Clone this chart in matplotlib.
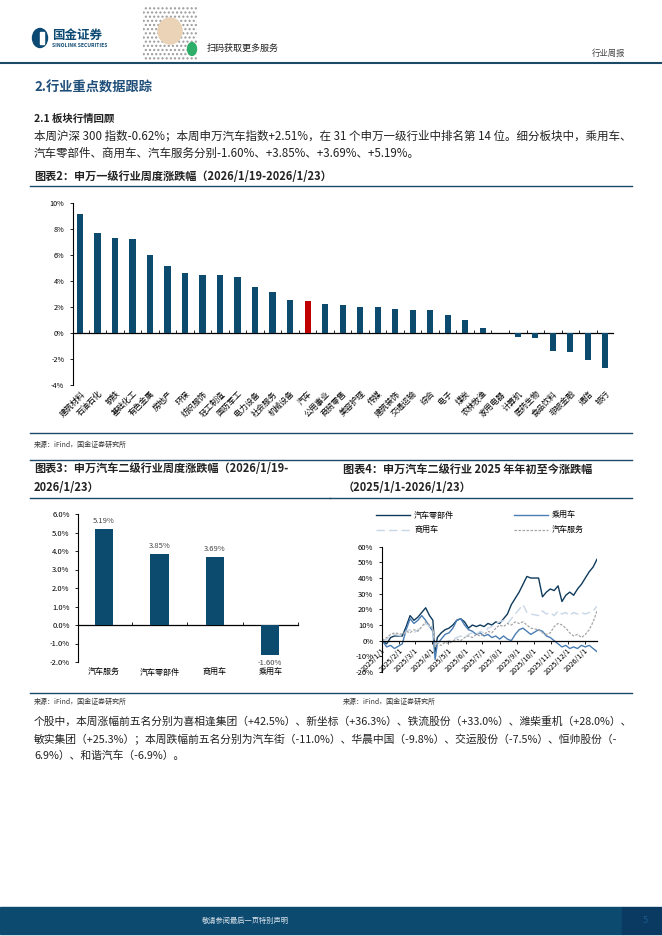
import numpy as np
import pandas as pd
import matplotlib
matplotlib.use("Agg")
import matplotlib.pyplot as plt
from matplotlib.lines import Line2D
from matplotlib.patches import Rectangle, Ellipse, Circle
from matplotlib.ticker import FuncFormatter

plt.rcParams['font.family'] = ['Noto Sans CJK SC', 'DejaVu Sans']
plt.rcParams['axes.unicode_minus'] = False

# chart 2: SW level-1 industries, weekly change (%)
sw1_names = ['建筑材料', '石油石化', '钢铁', '基础化工', '有色金属', '房地产', '环保', '纺织服饰',
             '轻工制造', '国防军工', '电力设备', '社会服务', '机械设备', '汽车', '公用事业', '商贸零售',
             '美容护理', '传媒', '建筑装饰', '交通运输', '综合', '电子', '煤炭', '农林牧渔',
             '家用电器', '计算机', '医药生物', '食品饮料', '非银金融', '通信', '银行']
sw1_chg = [9.2, 7.7, 7.3, 7.25, 6.0, 5.2, 4.6, 4.5, 4.5, 4.3, 3.55, 3.2, 2.55, 2.51, 2.25, 2.15,
           2.0, 2.0, 1.87, 1.77, 1.77, 1.38, 1.03, 0.41, 0.02, -0.28, -0.38, -1.38, -1.46, -2.1, -2.69]

# chart 3: SW auto level-2, weekly change (%)
sub_names = ['汽车服务', '汽车零部件', '商用车', '乘用车']
sub_chg = [5.19, 3.85, 3.69, -1.60]

# chart 4: SW auto level-2, cumulative change since 2025/1/1 (%)
dates = ['2025-01-02', '2025-01-10', '2025-01-17', '2025-01-24', '2025-02-07', '2025-02-14',
         '2025-02-21', '2025-02-28', '2025-03-07', '2025-03-14', '2025-03-21', '2025-03-28',
         '2025-04-03', '2025-04-07', '2025-04-11', '2025-04-18', '2025-04-25', '2025-05-02',
         '2025-05-09', '2025-05-16', '2025-05-23', '2025-05-30', '2025-06-06', '2025-06-13',
         '2025-06-20', '2025-06-27', '2025-07-04', '2025-07-11', '2025-07-18', '2025-07-25',
         '2025-08-01', '2025-08-08', '2025-08-15', '2025-08-22', '2025-08-29', '2025-09-05',
         '2025-09-12', '2025-09-19', '2025-09-26', '2025-10-10', '2025-10-17', '2025-10-24',
         '2025-10-31', '2025-11-07', '2025-11-14', '2025-11-21', '2025-11-28', '2025-12-05',
         '2025-12-12', '2025-12-19', '2025-12-26', '2026-01-02', '2026-01-09', '2026-01-16',
         '2026-01-23']
parts = [0, -2, 2, 3, 3, 9, 16, 13, 15, 18, 21, 16, 13, -7, 2, 5, 7, 8, 10, 13, 14, 12, 8, 10,
         9, 10, 9, 11, 10, 12, 11, 14, 17, 23, 27, 31, 36, 41, 40, 40, 28, 31, 33, 32, 35, 25,
         29, 31, 29, 33, 36, 40, 44, 47, 52]
passenger = [0, -4, -3, -5, -2, 7, 14, 11, 13, 16, 13, 9, 6, -12, -2, 1, 4, 5, 8, 13, 14, 10,
             7, 6, 4, 5, 3, 4, 2, 3, 1, 3, 1, 0, 4, 7, 8, 6, 4, 7, 6, 3, 2, 0, -2, -4, -3, -5,
             -4, -5, -3, -4, -3, -5, -7]
commercial = [0, 1, 3, 4, 3, 6, 7, 5, 7, 8, 11, 9, 7, -3, -1, -2, -1, 0, 1, 2, 3, 2, 4, 5, 4,
              6, 5, 8, 9, 11, 12, 13, 11, 14, 17, 20, 23, 18, 17, 16, 19, 17, 18, 16, 19, 17,
              18, 16, 18, 17, 18, 17, 18, 19, 22]
service = [0, 2, 4, 5, 4, 6, 5, 7, 6, 9, 12, 10, 8, -4, -2, -3, -1, -2, 0, 1, 0, 2, 3, 2, 4, 3,
           4, 6, 5, 8, 10, 9, 11, 10, 12, 11, 12, 10, 8, 7, 5, 4, 5, 9, 11, 10, 8, 5, 3, 4, 2,
           4, 7, 12, 19]

NAVY = '#0c4a6e'
RED = '#c00000'
DARK = '#1a4a68'
TXT = '#222222'

W, H = 662, 936
fig = plt.figure(figsize=(W / 100, H / 100), dpi=100)


def txt(x, y, s, size, **kw):
    kw.setdefault('color', TXT)
    kw.setdefault('va', 'center')
    fig.text(x / W, 1 - y / H, s, fontsize=size, **kw)


def hline(x0, x1, y, color=DARK, lw=1.0):
    fig.add_artist(Line2D([x0 / W, x1 / W], [1 - y / H] * 2, color=color, lw=lw,
                          transform=fig.transFigure))


def axbox(x0, y0, x1, y1):
    return fig.add_axes([x0 / W, 1 - y1 / H, (x1 - x0) / W, (y1 - y0) / H])


# header
tf = fig.transFigure
fig.add_artist(Ellipse((40 / W, 1 - 38 / H), 15 / W, 19 / H, color='#0d4a73', transform=tf))
fig.add_artist(Rectangle((40 / W, 1 - 44 / H), 4 / W, 12 / H, color='white', transform=tf))
txt(52, 35, '国金证券', 9, weight='bold', color='#0d4a73')
txt(52, 45.5, 'SINOLINK SECURITIES', 3.6, weight='bold', color='#0d4a73')
fig.add_artist(Rectangle((143 / W, 1 - 60 / H), 54 / W, 54 / H, fill=False, hatch='....',
                         edgecolor='#9a9a9a', lw=0, transform=tf))
fig.add_artist(Ellipse((170 / W, 1 - 31 / H), 24 / W, 26 / H, color='#ead3b6', transform=tf))
fig.add_artist(Circle((192 / W, 1 - 49 / H), 4.5 / W, color='#2eae68', transform=tf))
txt(207, 48, '扫码获取更多服务', 6.5)
txt(625, 53, '行业周报', 6, ha='right', color='#444444')
hline(0, W, 62.5, lw=1.5)

# section text
BODY1 = 8.3
BODY2 = 7.75
TITLE = 8.0
txt(34, 88, '2.行业重点数据跟踪', 9.5, weight='bold', color='#1f4e79')
txt(34, 119, '2.1 板块行情回顾', 7.5, weight='bold')
txt(34, 136, '本周沪深 300 指数-0.62%；本周申万汽车指数+2.51%，在 31 个申万一级行业中排名第 14 位。细分板块中，乘用车、', BODY1)
txt(34, 153, '汽车零部件、商用车、汽车服务分别-1.60%、+3.85%、+3.69%、+5.19%。', BODY1)
txt(34, 176, '图表2：申万一级行业周度涨跌幅（2026/1/19-2026/1/23）', TITLE, weight='bold', style='italic')
hline(30, 632, 185.5)

# chart 2
ax1 = axbox(72.7, 203.3, 613, 385)
x1 = np.arange(len(sw1_names))
ax1.bar(x1, sw1_chg, width=0.36, color=[RED if n == '汽车' else NAVY for n in sw1_names])
ax1.set_xlim(-0.42, len(sw1_names) - 0.56)
ax1.set_ylim(-4, 10)
ax1.set_yticks(np.arange(-4, 11, 2))
ax1.yaxis.set_major_formatter(FuncFormatter(lambda v, p: f'{v:.0f}%'))
ax1.set_xticks(x1)
ax1.set_xticklabels(sw1_names, rotation=45, ha='right', rotation_mode='anchor')
ax1.tick_params(axis='x', length=0, labelsize=5.8, pad=3)
ax1.tick_params(axis='y', length=2.5, labelsize=5.2, width=0.6)
for s in ['top', 'right', 'bottom']:
    ax1.spines[s].set_visible(False)
ax1.spines['left'].set_linewidth(0.8)
sec1 = ax1.secondary_xaxis(4 / 14)
sec1.set_xticks(x1[:-1] + 0.5)
sec1.tick_params(direction='in', length=2.5, width=0.6, labelbottom=False)
sec1.spines['bottom'].set_linewidth(0.9)

hline(30, 632, 432.5)
txt(34, 445, '来源：iFind，国金证券研究所', 5, color='#333333')
hline(30, 632, 459.5)

# chart 3
txt(34, 469, '图表3：申万汽车二级行业周度涨跌幅（2026/1/19-', TITLE, weight='bold', style='italic')
txt(34, 487, '2026/1/23）', TITLE, weight='bold', style='italic')
hline(30, 330, 497.5)
ax3 = axbox(78, 514, 298, 662)
x3 = np.arange(len(sub_names))
bars3 = ax3.bar(x3, sub_chg, width=0.33, color=NAVY)
ax3.bar_label(bars3, labels=[f'{v:.2f}%' for v in sub_chg], padding=3, fontsize=5.5,
              color='#444444')
ax3.set_xlim(-0.47, 3.5)
ax3.set_ylim(-2, 6)
ax3.set_yticks(np.arange(-2, 7, 1))
ax3.yaxis.set_major_formatter(FuncFormatter(lambda v, p: f'{v:.1f}%'))
ax3.set_xticks(x3)
ax3.set_xticklabels(sub_names)
ax3.tick_params(axis='x', length=0, labelsize=5.8, pad=4)
ax3.tick_params(axis='y', length=2.5, labelsize=5.5, width=0.6)
for s in ['top', 'right', 'bottom']:
    ax3.spines[s].set_visible(False)
ax3.spines['left'].set_linewidth(0.8)
sec3 = ax3.secondary_xaxis(2 / 8)
sec3.set_xticks(x3 + 0.5)
sec3.tick_params(direction='in', length=2.5, width=0.6, labelbottom=False)
sec3.spines['bottom'].set_linewidth(0.9)

# chart 4
txt(343, 469, '图表4：申万汽车二级行业 2025 年年初至今涨跌幅', TITLE, weight='bold', style='italic')
txt(343, 487, '（2025/1/1-2026/1/23）', TITLE, weight='bold', style='italic')
hline(330, 632, 497.5)
ax4 = axbox(381.7, 546.7, 597, 672)
ax4.spines['top'].set_visible(False)
ax4.spines['right'].set_visible(False)
ax4.spines['bottom'].set_position(('data', 0))
ax4.spines['left'].set_linewidth(0.8)
ax4.spines['bottom'].set_linewidth(0.9)
d4 = pd.to_datetime(dates)
l_parts, = ax4.plot(d4, parts, color='#0e3a5c', lw=1.0)
l_pass, = ax4.plot(d4, passenger, color='#4a7db3', lw=1.0)
l_comm, = ax4.plot(d4, commercial, color='#c9d7e6', lw=1.0, dashes=(6, 3))
l_serv, = ax4.plot(d4, service, color='#a5a5a5', lw=0.9, dashes=(2, 1.2))
ax4.set_xlim(pd.Timestamp('2025-01-01'), pd.Timestamp('2026-01-23'))
ax4.set_ylim(-20, 60)
ax4.set_yticks(np.arange(-20, 61, 10))
ax4.yaxis.set_major_formatter(FuncFormatter(lambda v, p: f'{v:.0f}%'))
months = pd.date_range('2025-01-01', '2026-01-01', freq='MS')
ax4.set_xticks(months)
ax4.set_xticklabels([f'{m.year}/{m.month}/1' for m in months], rotation=45, ha='right',
                    rotation_mode='anchor')
ax4.tick_params(axis='x', length=2, width=0.6, labelsize=5.3, pad=2)
ax4.tick_params(axis='y', length=2.5, labelsize=5.5, width=0.6)
fig.legend([l_parts, l_comm, l_pass, l_serv], ['汽车零部件', '商用车', '乘用车', '汽车服务'],
           ncol=2, loc='center', bbox_to_anchor=(480 / W, 1 - 523 / H), frameon=False,
           fontsize=5.8, handlelength=4.2, columnspacing=7.4, labelspacing=0.75,
           handletextpad=0.5)

# bottom
hline(30, 632, 693)
txt(34, 702, '来源：iFind，国金证券研究所', 5, color='#333333')
txt(343, 702, '来源：iFind，国金证券研究所', 5, color='#333333')
txt(34, 722, '个股中，本周涨幅前五名分别为喜相逢集团（+42.5%）、新坐标（+36.3%）、铁流股份（+33.0%）、潍柴重机（+28.0%）、', BODY2)
txt(34, 739, '敏实集团（+25.3%）；本周跌幅前五名分别为汽车街（-11.0%）、华晨中国（-9.8%）、交运股份（-7.5%）、恒帅股份（-', BODY2)
txt(34, 756, '6.9%）、和谐汽车（-6.9%）。', BODY2)

# footer
fig.add_artist(Rectangle((0, 1 - 934 / H), 622 / W, 27 / H, color='#0d4a70', transform=tf))
fig.add_artist(Rectangle((622 / W, 1 - 934 / H), 40 / W, 27 / H, color='#0a3a62', transform=tf))
txt(245, 920.5, '敬请参阅最后一页特别声明', 5.2, ha='center', color='#dfe8ef')
txt(645, 920.5, '5', 6.5, ha='center', color='#1d5a8a')

fig.savefig('out.png', dpi=100)
